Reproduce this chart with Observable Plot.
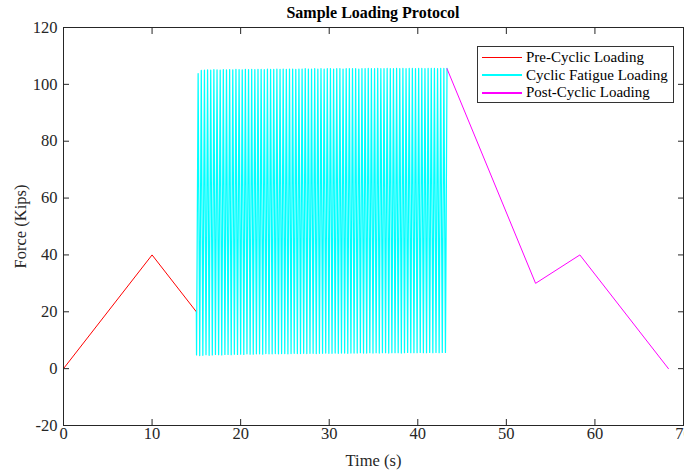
<!DOCTYPE html>
<html><head><meta charset="utf-8">
<script src="https://cdn.jsdelivr.net/npm/d3@7"></script>
<script src="https://cdn.jsdelivr.net/npm/@observablehq/plot@0.6"></script>
<style>
body{margin:0;background:#fff;}
#wrap{position:relative;width:684px;height:474px;font-family:"Liberation Serif","Times New Roman",serif;}
#title{height:20px;line-height:26px;text-align:center;padding-left:63px;padding-right:1px;font-weight:bold;font-size:16px;color:#000;}
#legend{position:absolute;left:477px;top:46px;width:197px;height:57px;border:1px solid #333;background:#fff;box-sizing:border-box;padding-top:2px;}
.row{display:flex;align-items:center;height:17.5px;font-size:15px;color:#000;}
.sw{width:40px;margin-left:4px;margin-right:4px;}
svg{display:block;}
</style></head>
<body>
<div id="wrap">
  <div id="title">Sample Loading Protocol</div>
  <div id="chart"></div>
  <div id="legend"></div>
</div>
<script>
// Pre-cyclic loading
const preTime = [0, 10, 15];
const preForce = [0, 40, 20];
// Cyclic fatigue loading: start point, then trough/peak per cycle
const cycleStart = [15, 20];
const cycleFirstPeakTime = 15.2;
const cycleLastPeakTime = 43.3;
const cyclePeaks = [
103.8,104.9,105.0,105.1,105.0,105.2,105.1,105.0,105.2,105.1,
105.2,105.1,105.3,105.2,105.1,105.3,105.2,105.3,105.2,105.3,
105.3,105.2,105.4,105.3,105.3,105.4,105.3,105.4,105.3,105.4,
105.4,105.3,105.4,105.4,105.5,105.4,105.4,105.5,105.4,105.5,
105.4,105.5,105.5,105.4,105.5,105.5,105.4,105.5,105.5,105.5,
105.5,105.4,105.5,105.5,105.6,105.5,105.5,105.6,105.5,105.5,
105.6,105.5,105.5,105.6,105.5,105.6,105.5,105.6,105.6,105.5,
105.6,105.6,105.5,105.6,105.6,105.6,105.5,105.6,105.6,105.6];
const cycleTroughs = [
4.8,4.6,4.7,4.9,4.7,4.8,5.0,4.9,4.8,5.0,
5.0,4.9,5.1,5.0,5.1,5.0,5.2,5.1,5.1,5.2,
5.2,5.1,5.3,5.2,5.2,5.3,5.2,5.3,5.3,5.2,
5.3,5.4,5.3,5.3,5.4,5.3,5.4,5.4,5.3,5.4,
5.4,5.5,5.4,5.4,5.5,5.4,5.5,5.5,5.4,5.5,
5.5,5.5,5.6,5.5,5.5,5.6,5.5,5.6,5.5,5.6,
5.6,5.5,5.6,5.6,5.6,5.5,5.6,5.7,5.6,5.6,
5.6,5.7,5.6,5.6,5.7,5.6,5.7,5.6,5.7,5.7];
// Post-cyclic loading
const postTime = [43.3, 53.3, 58.3, 68.3];
const postForce = [105.5, 30, 40, 0];

const xTicks = [0, 10, 20, 30, 40, 50, 60, 70];
const yTicks = [-20, 0, 20, 40, 60, 80, 100, 120];

const seriesNames = ["Pre-Cyclic Loading", "Cyclic Fatigue Loading", "Post-Cyclic Loading"];
const seriesColors = ["#ff0000", "#00ffff", "#ff00ff"];

const pre = preTime.map((t, i) => ({t, f: preForce[i]}));
const n = cyclePeaks.length;
const period = (cycleLastPeakTime - cycleFirstPeakTime) / (n - 1);
const cyc = [{t: cycleStart[0], f: cycleStart[1]}];
cyclePeaks.forEach((p, i) => {
  const tp = cycleFirstPeakTime + i * period;
  cyc.push({t: tp - period / 2, f: cycleTroughs[i]});
  cyc.push({t: tp, f: p});
});
const post = postTime.map((t, i) => ({t, f: postForce[i]}));

const axisColor = "#262626";
const fmt = d => String(d);

const chart = Plot.plot({
  width: 684, height: 454,
  marginLeft: 63, marginRight: 1, marginTop: 7, marginBottom: 49,
  x: {domain: [0, 70]},
  y: {domain: [-20, 120]},
  style: {fontFamily: "'Liberation Serif', 'Times New Roman', serif", fontSize: "15.5px", color: "#262626", background: "white", overflow: "visible"},
  marks: [
    Plot.line(pre, {x: "t", y: "f", stroke: seriesColors[0], strokeWidth: 1}),
    Plot.line(cyc, {x: "t", y: "f", stroke: seriesColors[1], strokeWidth: 1.25}),
    Plot.line(post, {x: "t", y: "f", stroke: seriesColors[2], strokeWidth: 1}),
    Plot.frame({stroke: axisColor, strokeWidth: 1}),
    Plot.axisX({ticks: xTicks, tickSize: -6, tickPadding: 8, tickFormat: fmt, stroke: axisColor, fill: axisColor,
      label: "Time (s)", labelAnchor: "center", labelArrow: "none", labelOffset: 40, fontSize: 16.5}),
    Plot.axisX({anchor: "top", ticks: xTicks, tickSize: -6, tickFormat: () => "", label: null, stroke: axisColor}),
    Plot.axisY({ticks: yTicks, tickSize: -6, tickPadding: 12, tickFormat: fmt, stroke: axisColor, fill: axisColor,
      label: "Force (Kips)", labelAnchor: "center", labelArrow: "none", labelOffset: 49, fontSize: 16.5}),
    Plot.axisY({anchor: "right", ticks: yTicks, tickSize: -6, tickFormat: () => "", label: null, stroke: axisColor})
  ]
});
document.getElementById("chart").appendChild(chart);

const legend = document.getElementById("legend");
const widths = [1, 2, 2];
seriesNames.forEach((name, i) => {
  const row = document.createElement("div");
  row.className = "row";
  const sw = document.createElement("div");
  sw.className = "sw";
  sw.style.height = widths[i] + "px";
  sw.style.background = seriesColors[i];
  const label = document.createElement("span");
  label.textContent = name;
  row.appendChild(sw);
  row.appendChild(label);
  legend.appendChild(row);
});
</script>
</body></html>
